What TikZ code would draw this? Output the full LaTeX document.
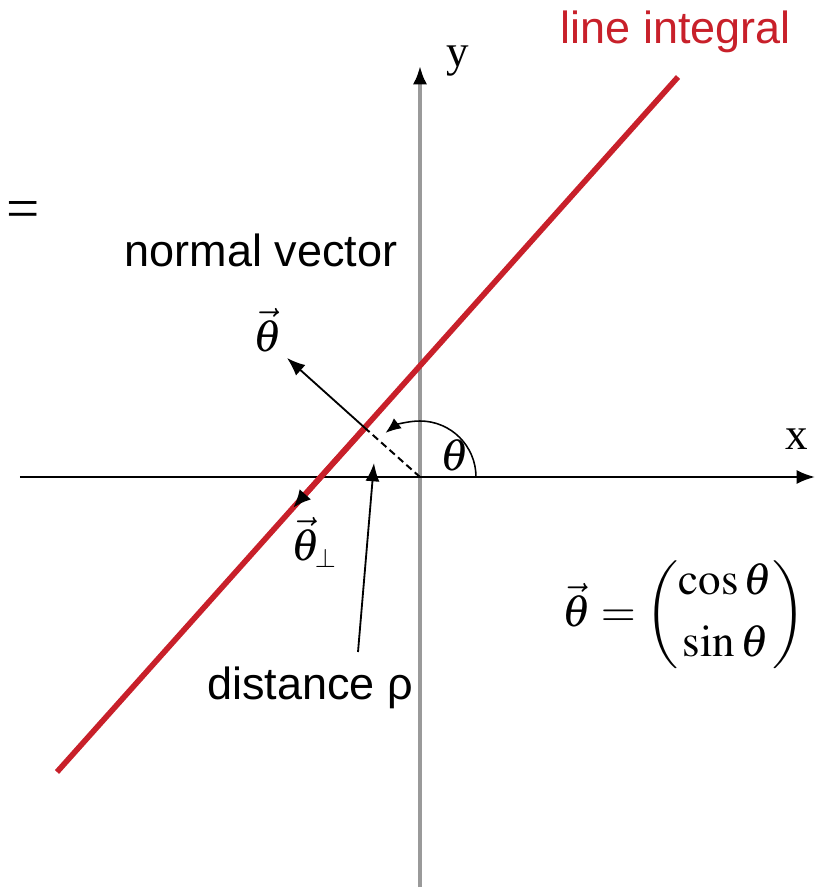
\documentclass[tikz,border=0pt]{standalone}
\usepackage{amsmath}
\usepackage{mathptmx}
\usepackage{fontspec}
\setmainfont{Liberation Serif}
\newfontfamily\labelfont{Liberation Sans}
\usetikzlibrary{arrows.meta}
\definecolor{linered}{HTML}{C8202A}
\definecolor{axisgray}{HTML}{9A9A9A}

\begin{document}
\begin{tikzpicture}[x=0.025cm,y=0.025cm,font=\fontsize{32}{36}\selectfont,
    tip/.style={-{Latex[length=13pt,width=10pt]}},
    sans/.style={font=\labelfont\fontsize{32}{36}\selectfont}]
        \useasboundingbox (-420,-412) rectangle (399,477);

        % points
        \coordinate (O) at (0,0);
        \coordinate (F) at (-55,49);
        \coordinate (redlo) at (-363,-295);
        \coordinate (redhi) at (258,400);
        \coordinate (ntip) at (-133,119);
        \coordinate (ptip) at (-127,-31);
        \coordinate (xlo) at (-400,0);
        \coordinate (xhi) at (395,0);
        \coordinate (ylo) at (0,-410);
        \coordinate (yhi) at (0,411);
        \coordinate (dtip) at (-46,14);

        % axes
        \draw[axisgray,line width=2.4pt,-{Latex[black,length=13pt,width=10pt]}] (ylo) -- (yhi);
        \draw[black,line width=1.7pt,tip] (xlo) -- (xhi);
        \node[anchor=base west] (ylab) at (22,410) {y};
        \node[anchor=base] (xlab) at (377,28) {x};

        % line and its vectors
        \draw[linered,line width=4pt] (redlo) -- (redhi);
        \draw[linered,line width=4pt,-{Latex[black,length=13pt,width=11pt]}] (F) -- (ptip);
        \draw[line width=1.3pt,tip] (F) -- (ntip);
        \draw[line width=1.4pt,dash pattern=on 5pt off 3pt] (O) -- (F);
        \draw[line width=1.1pt,-{Latex[length=11pt,width=9pt]}] (56,0) arc[start angle=0,end angle=128,radius=56];

        % labels
        \node (thetalab) at (35,22) {$\theta$};
        \node (nveclab) at (-152,147) {$\vec\theta$};
        \node (pveclab) at (-106,-65) {$\vec\theta_{\scriptscriptstyle\perp}$};
        \node[sans] (normallab) at (-159,227) {normal vector};
        \node[sans,text=linered] (linelab) at (256,445) {line integral};
        \node[sans] (distlab) at (-110,-211) {distance ρ};
        \draw[line width=1.3pt,tip] (-62,-175) -- (dtip);
        \node (formula) at (264,-138) {$\vec\theta=\begin{pmatrix}\cos\theta\\[8pt] \sin\theta\end{pmatrix}$};
        \node[font=\fontsize{42}{46}\selectfont,inner sep=0pt] (eqmark) at (-397,262) {=};
      \end{tikzpicture}
\end{document}
